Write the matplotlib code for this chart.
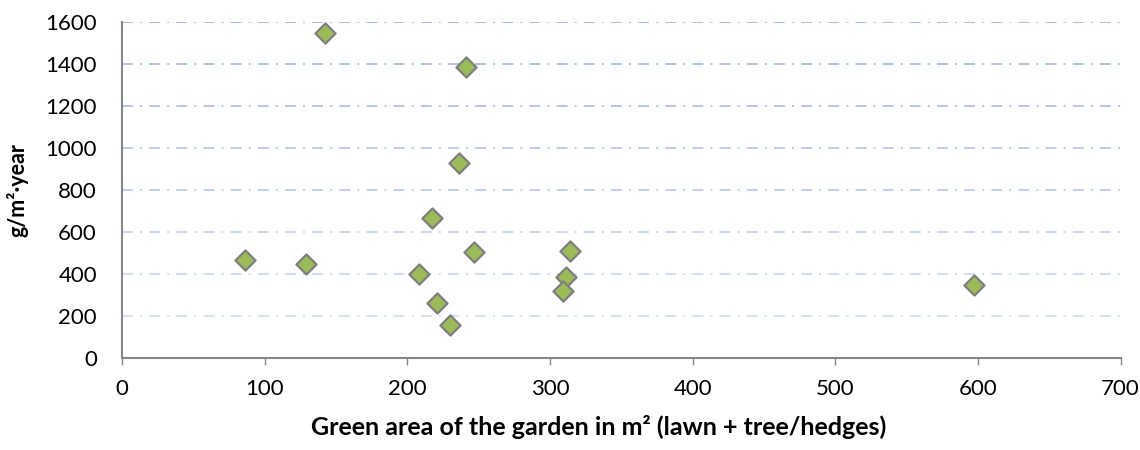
import numpy as np
import matplotlib
matplotlib.use('Agg')
import matplotlib.pyplot as plt
from matplotlib.colors import to_rgb

# ── DATA ──────────────────────────────────────────────────────────────────────
green_area = [86, 129, 142, 241, 236, 217, 247, 208, 221, 230, 314, 311, 309, 597]
emission   = [467, 448, 1550, 1385, 930, 667, 505, 400, 262, 157, 510, 386, 320, 345]

X_TICKS = [0, 100, 200, 300, 400, 500, 600, 700]
Y_TICKS = [0, 200, 400, 600, 800, 1000, 1200, 1400, 1600]

X_LABEL = "Green area of the garden in m² (lawn + tree/hedges)"
Y_LABEL = "g/m²·year"

# ── STYLE ─────────────────────────────────────────────────────────────────────
plt.rcParams['font.family'] = ['Lato', 'DejaVu Sans']
AXIS_GREY  = '#868686'
GRID_BLUE  = '#8eaadb'
FILL_GREEN = '#9bbb59'

fig = plt.figure(figsize=(11.4, 4.5), dpi=100)
ax = fig.add_axes([0.107, 0.205, 0.876, 0.746])

ax.scatter(green_area, emission, marker='D', s=105, color=FILL_GREEN,
           edgecolors='#7f7f7f', linewidths=1.6, zorder=3)

ax.set_xlim(0, 700)
ax.set_ylim(0, 1600)
ax.set_xticks(X_TICKS)
ax.set_yticks(Y_TICKS)
ax.tick_params(axis='x', length=5, width=1, color=AXIS_GREY, pad=10,
               labelsize=16, labelcolor='black')
ax.tick_params(axis='y', length=0, pad=18, labelsize=16, labelcolor='black')

for side in ['top', 'right']:
    ax.spines[side].set_visible(False)
for side in ['left', 'bottom']:
    ax.spines[side].set_color(AXIS_GREY)
    ax.spines[side].set_linewidth(1.5)

# dash-dot gridlines, fading towards the bottom
ax.grid(axis='y', linestyle=(0, (6.5, 4.3, 1.2, 4.3)), linewidth=1.2)
base = np.array(to_rgb(GRID_BLUE))
for val, line in zip(Y_TICKS, ax.get_ygridlines()):
    if val == 0:
        line.set_visible(False)
        continue
    a = 0.35 + 0.55 * val / 1600
    line.set_color(tuple(base * a + (1 - a)))
ax.set_axisbelow(True)

ax.set_xlabel(X_LABEL, fontsize=18, fontweight='bold', labelpad=12)
ax.xaxis.label.set_x(0.4775)   # excel puts the title a bit left of centre
ax.set_ylabel(Y_LABEL, fontsize=15.5, fontweight='bold', labelpad=12)

fig.savefig('out.png', dpi=100)
